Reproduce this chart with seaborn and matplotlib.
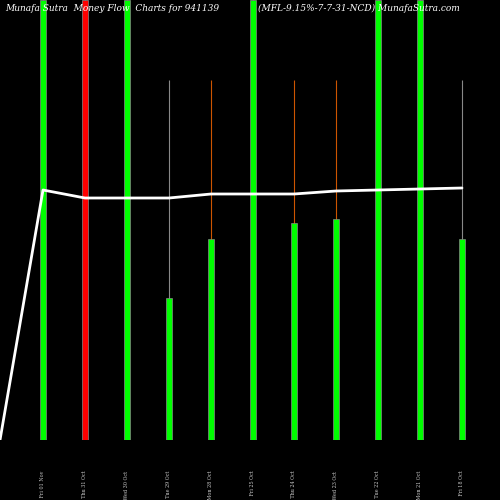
import matplotlib
matplotlib.use("Agg")
import matplotlib.pyplot as plt
import seaborn as sns
import pandas as pd

# bar heights (0 = baseline, 440 = top of chart area)
positions = [43, 85, 127, 169, 211, 253, 294, 336, 378, 420, 462]
heights = [440, 440, 440, 142, 201, 440, 217, 221, 440, 440, 201]
colors = ['#00ff00', '#ff0000', '#00ff00', '#00ff00', '#00ff00', '#00ff00',
          '#00ff00', '#00ff00', '#00ff00', '#00ff00', '#00ff00']
wick_tops = [440, 440, 440, 360, 360, 440, 360, 360, 440, 440, 360]
wick_colors = ['#888888', '#888888', '#888888', '#888888', '#cc5500', '#888888',
               '#cc5500', '#cc5500', '#888888', '#888888', '#888888']
line_x = [0, 43, 85, 127, 169, 211, 253, 294, 336, 378, 420, 462]
line_y = [0, 250, 242, 242, 242, 246, 246, 246, 249, 250, 251, 252]
tick_labels = ['Vol 98.00  Fri 01 Nov', 'Vol 97.20  Thu 31 Oct', 'Vol 98.10  Wed 30 Oct',
               'Vol 97.50  Tue 29 Oct', 'Vol 98.20  Mon 28 Oct', 'Vol 98.00  Fri 25 Oct',
               'Vol 98.20  Thu 24 Oct', 'Vol 98.40  Wed 23 Oct', 'Vol 98.50  Tue 22 Oct',
               'Vol 98.60  Mon 21 Oct', 'Vol 98.70  Fri 18 Oct']

sns.set_style("dark")
fig = plt.figure(figsize=(5, 5), dpi=100, facecolor='black')
ax = fig.add_axes([0, 0.12, 1, 0.88])
ax.set_facecolor('black')

ax.vlines(positions, 0, wick_tops, colors=wick_colors, linewidth=0.8, zorder=1)
ax.bar(positions, heights, width=6, color=colors, edgecolor='#888888', linewidth=0.5, zorder=2)
df = pd.DataFrame({'x': line_x, 'y': line_y})
sns.lineplot(data=df, x='x', y='y', sort=False, color='white', linewidth=2, ax=ax, zorder=3)

ax.set_xlim(0, 500)
ax.set_ylim(0, 440)
ax.set_xticks(positions)
ax.set_xticklabels(tick_labels, rotation=90, fontsize=3.5, color='#cccccc', family='serif')
ax.tick_params(axis='x', length=0, pad=22)
ax.set_yticks([])
ax.set_xlabel('')
ax.set_ylabel('')
for s in ax.spines.values():
    s.set_visible(False)

fig.text(0.01, 0.992, 'Munafa Sutra  Money Flow  Charts for 941139', color='white',
         fontsize=6.5, style='italic', family='serif', va='top')
fig.text(0.515, 0.992, '(MFL-9.15%-7-7-31-NCD) MunafaSutra.com', color='white',
         fontsize=6.5, style='italic', family='serif', va='top')

fig.savefig('out.png', dpi=100, facecolor='black')
